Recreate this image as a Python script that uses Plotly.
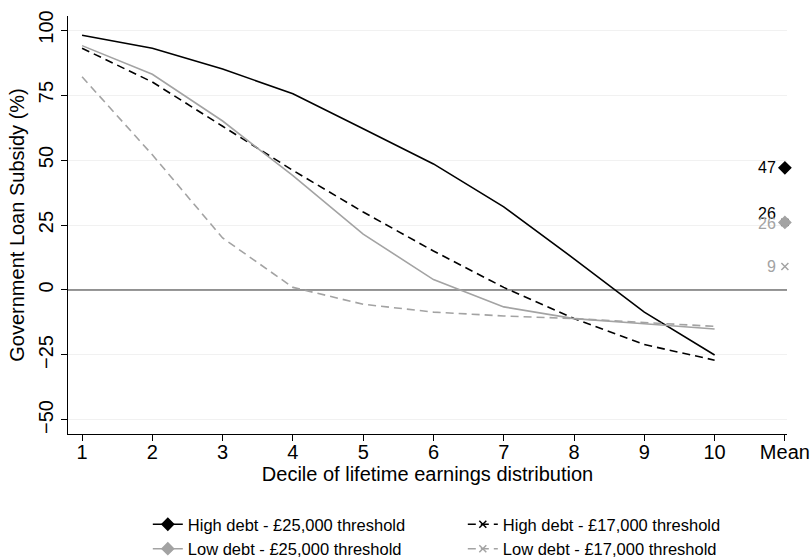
import plotly.graph_objects as go

deciles = [1, 2, 3, 4, 5, 6, 7, 8, 9, 10]
tick_vals = [1, 2, 3, 4, 5, 6, 7, 8, 9, 10, 11]
tick_text = ["1", "2", "3", "4", "5", "6", "7", "8", "9", "10", "Mean"]
mean_x = 11

hd25 = [98, 93, 85, 75.5, 62, 48.5, 32, 12, -8.5, -25]
hd17 = [93, 80, 63, 46, 30, 15, 1, -11, -21, -27]
ld25 = [94, 83, 65, 44, 21.5, 4, -6.5, -11, -13, -15]
ld17 = [82, 52, 20, 1, -5.5, -8.5, -10, -11, -12.5, -14]

mean_hd25 = 47
mean_hd17 = 26
mean_ld25 = 26
mean_ld17 = 9

names = ["High debt - £25,000 threshold", "High debt - £17,000 threshold",
         "Low debt - £25,000 threshold", "Low debt - £17,000 threshold"]

BLACK = "#000000"
GRAY = "#a3a3a3"
DASH = "8px,5px"
FONT = "Liberation Sans, Arial, sans-serif"

series = [
    (hd25, mean_hd25, BLACK, "solid", "diamond", 9, names[0]),
    (hd17, mean_hd17, BLACK, DASH, "x-thin", 7, names[1]),
    (ld25, mean_ld25, GRAY, "solid", "diamond", 9, names[2]),
    (ld17, mean_ld17, GRAY, DASH, "x-thin", 7, names[3]),
]

fig = go.Figure()

# zero line
fig.add_trace(go.Scatter(x=[0.8, 11.03], y=[0, 0], mode="lines",
                         line=dict(color="#333333", width=1.2),
                         showlegend=False, hoverinfo="skip"))

for vals, m, col, dash, sym, ms, nm in series:
    fig.add_trace(go.Scatter(x=deciles, y=vals, mode="lines",
                             line=dict(color=col, width=1.6, dash=dash),
                             showlegend=False))

for vals, m, col, dash, sym, ms, nm in series:
    fig.add_trace(go.Scatter(x=[mean_x], y=[m], mode="lines+markers", name=nm,
                             cliponaxis=False,
                             line=dict(color=col, width=1.6, dash=dash),
                             marker=dict(symbol=sym, size=ms, color=col,
                                         line=dict(color=col, width=1.5))))

# mean labels
labels = [
    (mean_hd25, BLACK, 0),
    (mean_hd17, BLACK, 9),
    (mean_ld25, GRAY, -1),
    (mean_ld17, GRAY, 0),
]
for m, col, yoff in labels:
    fig.add_annotation(x=mean_x, y=m, text=str(m), showarrow=False,
                       xanchor="right", yanchor="middle", xshift=-7, yshift=yoff,
                       font=dict(color=col, size=16, family=FONT))

fig.update_layout(
    width=811, height=560,
    margin=dict(l=68, r=24, t=16, b=126),
    paper_bgcolor="white", plot_bgcolor="white",
    font=dict(family=FONT, color="black"),
    showlegend=True,
    legend=dict(orientation="h", x=0.111, y=0.0946, yref="container",
                xanchor="left", yanchor="top",
                entrywidth=270, entrywidthmode="pixels",
                font=dict(size=16.5, family=FONT), traceorder="normal",
                tracegroupgap=0),
    xaxis=dict(range=[0.8, 11.03], tickvals=tick_vals, ticktext=tick_text,
               showgrid=False, zeroline=False, showline=True, linecolor="black",
               linewidth=1.2, ticks="outside", ticklen=6, tickcolor="black",
               automargin=False, ticklabelstandoff=-6,
               tickfont=dict(size=20), title=dict(text="Decile of lifetime earnings distribution",
                                                 font=dict(size=20), standoff=4)),
    yaxis=dict(range=[-55.4, 105.4], tickvals=[-50, -25, 0, 25, 50, 75, 100],
               showgrid=True, gridcolor="#f1f1f1", gridwidth=1, zeroline=False,
               showline=True, linecolor="black", linewidth=1.2, ticks="outside",
               ticklen=6, tickcolor="black", tickangle=-90, tickfont=dict(size=20),
               automargin=False,
               title=dict(text="Government Loan Subsidy (%)", font=dict(size=20), standoff=4)),
)

fig.write_html("out.html", config={"displayModeBar": False},
               post_script="document.body.style.margin='0';document.body.style.overflow='hidden';")
